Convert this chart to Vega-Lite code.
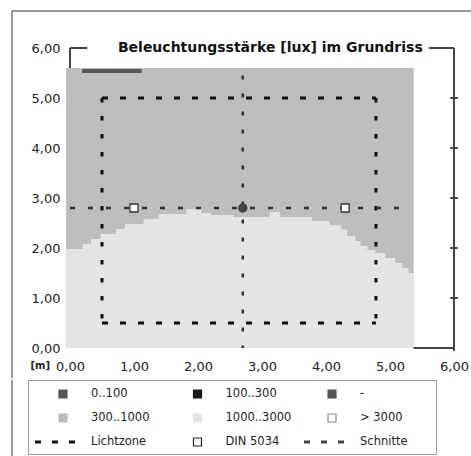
{
  "$schema": "https://vega.github.io/schema/vega-lite/v6.json",
  "padding": {"left": 10, "top": 10, "right": 0, "bottom": 0},
  "background": "white",
  "spacing": 0,
  "bounds": "full",
  "config": {
    "view": {"stroke": null},
    "font": "DejaVu Sans",
    "axis": {"labelFont": "DejaVu Sans", "labelFontSize": 13, "labelColor": "#222", "grid": false, "ticks": false, "domain": false}
  },
  "datasets": {
    "title": [{"text": "Beleuchtungsstärke [lux] im Grundriss"}],
    "frameH": [
      {"x": 0, "y": 6, "x2": 0.27},
      {"x": 5.61, "y": 6, "x2": 6},
      {"x": 5.37, "y": 0, "x2": 6},
      {"x": 5.94, "y": 1, "x2": 6.06},
      {"x": 5.94, "y": 2, "x2": 6.06},
      {"x": 5.94, "y": 3, "x2": 6.06},
      {"x": 5.94, "y": 4, "x2": 6.06},
      {"x": 5.94, "y": 5, "x2": 6.06}
    ],
    "frameV": [
      {"x": 0, "y": 5.6, "y2": 6},
      {"x": 6, "y": -0.06, "y2": 6}
    ],
    "zone": [{"x": -0.06, "x2": 5.37, "y": 0, "y2": 5.6, "zone": "300..1000"}],
    "boundary": [
      {"x": -0.06, "y": 1.98}, {"x": 0.2, "y": 2.08}, {"x": 0.33, "y": 2.18}, {"x": 0.48, "y": 2.28},
      {"x": 0.72, "y": 2.38}, {"x": 0.86, "y": 2.48}, {"x": 1.15, "y": 2.58}, {"x": 1.38, "y": 2.68},
      {"x": 1.82, "y": 2.78}, {"x": 2.05, "y": 2.7}, {"x": 2.2, "y": 2.66}, {"x": 2.55, "y": 2.62},
      {"x": 3.12, "y": 2.72}, {"x": 3.28, "y": 2.62}, {"x": 3.78, "y": 2.54}, {"x": 4.06, "y": 2.46},
      {"x": 4.24, "y": 2.37}, {"x": 4.33, "y": 2.24}, {"x": 4.46, "y": 2.14}, {"x": 4.54, "y": 2.04},
      {"x": 4.65, "y": 1.96}, {"x": 4.77, "y": 1.9}, {"x": 4.93, "y": 1.8}, {"x": 5.08, "y": 1.7},
      {"x": 5.19, "y": 1.6}, {"x": 5.29, "y": 1.5}, {"x": 5.37, "y": 1.5}
    ],
    "bar": [{"x": 0.19, "x2": 1.12, "y": 5.5, "y2": 5.58}],
    "lz_h": [{"x": 0.5, "y": 5.0, "x2": 4.78, "y2": 5.0}, {"x": 0.5, "y": 0.5, "x2": 4.78, "y2": 0.5}],
    "lz_v": [{"x": 0.5, "y": 5.0, "x2": 0.5, "y2": 0.5}, {"x": 4.78, "y": 5.0, "x2": 4.78, "y2": 0.5}],
    "sn_h": [{"x": 0, "y": 2.8, "x2": 5.3, "y2": 2.8}],
    "sn_v": [{"x": 2.7, "y": 5.45, "x2": 2.7, "y2": 0}],
    "din": [{"x": 1.0, "y": 2.8}, {"x": 4.3, "y": 2.8}],
    "cross": [{"x": 2.7, "y": 2.8}],
    "outer": [
      {"x": -0.906, "y": 6.74, "x2": -0.906, "y2": -0.6},
      {"x": -0.906, "y": 6.74, "x2": 6.28, "y2": 6.74}
    ],
    "legend": [
      {"col": 0, "row": 0, "label": "0..100", "kind": "box"},
      {"col": 1, "row": 0, "label": "100..300", "kind": "box"},
      {"col": 2, "row": 0, "label": "-", "kind": "box"},
      {"col": 0, "row": 1, "label": "300..1000", "kind": "box"},
      {"col": 1, "row": 1, "label": "1000..3000", "kind": "box"},
      {"col": 2, "row": 1, "label": "> 3000", "kind": "box"},
      {"col": 0, "row": 2, "label": "Lichtzone", "kind": "line"},
      {"col": 1, "row": 2, "label": "DIN 5034", "kind": "box"},
      {"col": 2, "row": 2, "label": "Schnitte", "kind": "line"}
    ],
    "legendOuter": [{"col": -0.379, "row": -0.583, "col2": -0.379, "row2": 2.625}]
  },
  "vconcat": [
    {
      "width": 426,
      "height": 300,
      "layer": [
        {
          "data": {"name": "zone"},
          "mark": {"type": "rect", "color": "#bdbdbd"},
          "encoding": {
            "x": {"field": "x", "type": "quantitative", "scale": {"domain": [-0.65625, 6], "nice": false, "zero": false},
              "axis": {"values": [0, 1, 2, 3, 4, 5, 6], "labelExpr": "replace(format(datum.value, '.2f'), '.', ',')",
                "title": "[m]", "titleX": 2, "titleY": 12, "titleAlign": "left", "titleBaseline": "top",
                "titleFontSize": 10, "titleFontWeight": "bold", "titleFont": "DejaVu Sans", "titleColor": "#222",
                "labelPadding": 12, "labelFlush": false, "labelOverlap": false}},
            "x2": {"field": "x2"},
            "y": {"field": "y", "type": "quantitative", "scale": {"domain": [0, 6], "nice": false, "zero": false},
              "axis": {"values": [0, 1, 2, 3, 4, 5, 6], "labelExpr": "replace(format(datum.value, '.2f'), '.', ',')",
                "title": null, "offset": -42, "labelPadding": 10, "labelOverlap": false}},
            "y2": {"field": "y2"}
          }
        },
        {
          "data": {"name": "boundary"},
          "mark": {"type": "area", "interpolate": "step-after", "color": "#e4e4e4"},
          "encoding": {
            "x": {"field": "x", "type": "quantitative"},
            "y": {"field": "y", "type": "quantitative"},
            "y2": {"datum": 0}
          }
        },
        {
          "data": {"name": "bar"},
          "mark": {"type": "rect", "color": "#555"},
          "encoding": {
            "x": {"field": "x", "type": "quantitative"},
            "x2": {"field": "x2"},
            "y": {"field": "y", "type": "quantitative"},
            "y2": {"field": "y2"}
          }
        },
        {
          "data": {"name": "lz_h"},
          "mark": {"type": "rule", "stroke": "#111", "strokeWidth": 3, "strokeDash": [6, 12]},
          "encoding": {
            "x": {"field": "x", "type": "quantitative"},
            "x2": {"field": "x2"},
            "y": {"field": "y", "type": "quantitative"},
            "y2": {"field": "y2"}
          }
        },
        {
          "data": {"name": "lz_v"},
          "mark": {"type": "rule", "stroke": "#111", "strokeWidth": 3, "strokeDash": [4.5, 13.5]},
          "encoding": {
            "x": {"field": "x", "type": "quantitative"},
            "x2": {"field": "x2"},
            "y": {"field": "y", "type": "quantitative"},
            "y2": {"field": "y2"}
          }
        },
        {
          "data": {"name": "sn_h"},
          "mark": {"type": "rule", "stroke": "#333", "strokeWidth": 2.5, "strokeDash": [5, 13]},
          "encoding": {
            "x": {"field": "x", "type": "quantitative"},
            "x2": {"field": "x2"},
            "y": {"field": "y", "type": "quantitative"},
            "y2": {"field": "y2"}
          }
        },
        {
          "data": {"name": "sn_v"},
          "mark": {"type": "rule", "stroke": "#333", "strokeWidth": 2.5, "strokeDash": [4, 14]},
          "encoding": {
            "x": {"field": "x", "type": "quantitative"},
            "x2": {"field": "x2"},
            "y": {"field": "y", "type": "quantitative"},
            "y2": {"field": "y2"}
          }
        },
        {
          "data": {"name": "din"},
          "mark": {"type": "point", "shape": "square", "size": 64, "filled": true, "fill": "white", "stroke": "#333", "strokeWidth": 1.3, "opacity": 1},
          "encoding": {
            "x": {"field": "x", "type": "quantitative"},
            "y": {"field": "y", "type": "quantitative"}
          }
        },
        {
          "data": {"name": "cross"},
          "mark": {"type": "point", "shape": "circle", "size": 90, "filled": true, "color": "#444", "opacity": 1},
          "encoding": {
            "x": {"field": "x", "type": "quantitative"},
            "y": {"field": "y", "type": "quantitative"}
          }
        },
        {
          "data": {"name": "frameH"},
          "mark": {"type": "rule", "stroke": "#444", "strokeWidth": 2},
          "encoding": {
            "x": {"field": "x", "type": "quantitative"},
            "x2": {"field": "x2"},
            "y": {"field": "y", "type": "quantitative"}
          }
        },
        {
          "data": {"name": "frameV"},
          "mark": {"type": "rule", "stroke": "#444", "strokeWidth": 2},
          "encoding": {
            "x": {"field": "x", "type": "quantitative"},
            "y": {"field": "y", "type": "quantitative"},
            "y2": {"field": "y2"}
          }
        },
        {
          "data": {"name": "outer"},
          "mark": {"type": "rule", "stroke": "#333", "strokeWidth": 1},
          "encoding": {
            "x": {"field": "x", "type": "quantitative"},
            "x2": {"field": "x2"},
            "y": {"field": "y", "type": "quantitative"},
            "y2": {"field": "y2"}
          }
        },
        {
          "data": {"name": "title"},
          "mark": {"type": "text", "align": "center", "baseline": "middle", "fontSize": 14, "fontWeight": "bold", "font": "DejaVu Sans", "color": "#111"},
          "encoding": {
            "x": {"datum": 3.13, "type": "quantitative"},
            "y": {"datum": 6, "type": "quantitative"},
            "text": {"field": "text"}
          }
        }
      ]
    },
    {
      "width": 408,
      "height": 74,
      "view": {"stroke": "#999", "strokeWidth": 1},
      "layer": [
        {
          "data": {"name": "legendOuter"},
          "mark": {"type": "rule", "stroke": "#333", "strokeWidth": 1},
          "encoding": {
            "x": {"field": "col", "type": "quantitative", "axis": null, "scale": {"domain": [-0.26, 2.773], "nice": false, "zero": false}},
            "x2": {"field": "col2"},
            "y": {"field": "row", "type": "quantitative", "axis": null, "scale": {"domain": [-0.583, 2.5], "nice": false, "zero": false, "reverse": true}},
            "y2": {"field": "row2"}
          }
        },
        {
          "data": {"name": "legend"},
          "transform": [{"filter": "datum.kind == 'box'"}],
          "mark": {"type": "point", "shape": "square", "size": 64, "filled": true, "strokeWidth": 1.2, "opacity": 1},
          "encoding": {
            "x": {"field": "col", "type": "quantitative", "axis": null},
            "y": {"field": "row", "type": "quantitative", "axis": null},
            "fill": {"field": "label", "type": "nominal", "legend": null,
              "scale": {"domain": ["0..100", "100..300", "-", "300..1000", "1000..3000", "> 3000", "Lichtzone", "DIN 5034", "Schnitte"],
                "range": ["#555555", "#1a1a1a", "#555555", "#bcbcbc", "#e4e4e4", "#ffffff", "#111111", "#ffffff", "#444444"]}},
            "stroke": {"field": "label", "type": "nominal", "legend": null,
              "scale": {"domain": ["0..100", "100..300", "-", "300..1000", "1000..3000", "> 3000", "Lichtzone", "DIN 5034", "Schnitte"],
                "range": ["#555555", "#1a1a1a", "#555555", "#bcbcbc", "#e4e4e4", "#8a8a8a", "#111111", "#222222", "#444444"]}}
          }
        },
        {
          "data": {"name": "legend"},
          "transform": [{"filter": "datum.kind == 'line'"}],
          "mark": {"type": "rule", "strokeWidth": 3, "strokeDash": [6, 11], "xOffset": -28, "x2Offset": 12},
          "encoding": {
            "x": {"field": "col", "type": "quantitative", "axis": null},
            "x2": {"field": "col"},
            "y": {"field": "row", "type": "quantitative", "axis": null},
            "stroke": {"field": "label", "type": "nominal", "legend": null,
              "scale": {"domain": ["0..100", "100..300", "-", "300..1000", "1000..3000", "> 3000", "Lichtzone", "DIN 5034", "Schnitte"],
                "range": ["#555555", "#1a1a1a", "#555555", "#bcbcbc", "#e4e4e4", "#8a8a8a", "#111111", "#222222", "#444444"]}}
          }
        },
        {
          "data": {"name": "legend"},
          "mark": {"type": "text", "align": "left", "baseline": "middle", "dx": 28, "fontSize": 11.5, "font": "DejaVu Sans", "color": "#222"},
          "encoding": {
            "x": {"field": "col", "type": "quantitative", "axis": null},
            "y": {"field": "row", "type": "quantitative", "axis": null},
            "text": {"field": "label"}
          }
        }
      ]
    }
  ]
}
